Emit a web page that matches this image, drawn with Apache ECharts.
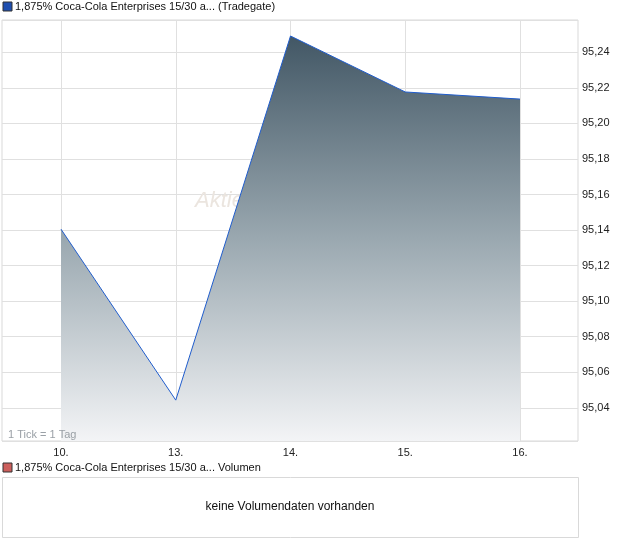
<!DOCTYPE html>
<html><head><meta charset="utf-8">
<script src="https://cdn.jsdelivr.net/npm/echarts@6/dist/echarts.min.js"></script>
<style>html,body{margin:0;padding:0;background:#fff}#c{width:620px;height:546px}</style>
</head><body><div id="c"></div>
<script>
const categories = ['10.', '13.', '14.', '15.', '16.'];
const prices = [95.1405, 95.0443, 95.2492, 95.2177, 95.2137];
const yMin = 95.0213, yMax = 95.2582;
const titleMain = '1,875% Coca-Cola Enterprises 15/30 a... (Tradegate)';
const titleVol = '1,875% Coca-Cola Enterprises 15/30 a... Volumen';
const noVolText = 'keine Volumendaten vorhanden';
const tickNote = '1 Tick = 1 Tag';

const font = '"Liberation Sans", Arial, sans-serif';
const chart = echarts.init(document.getElementById('c'), null, {renderer: 'canvas'});
chart.setOption({
  animation: false,
  textStyle: {fontFamily: font},
  grid: [
    {left: 2, right: 42, top: 20, bottom: 105, show: true, borderColor: '#d9d9d9', borderWidth: 1, backgroundColor: 'transparent'},
    {left: 61, right: 100, top: 20, bottom: 105}
  ],
  xAxis: [
    {gridIndex: 0, type: 'value', min: 0, max: 1, show: false},
    {gridIndex: 1, type: 'category', boundaryGap: false, data: categories,
     axisLine: {show: false}, axisTick: {show: false},
     axisLabel: {color: '#222', fontSize: 11, margin: 6, fontFamily: font},
     splitLine: {show: true, lineStyle: {color: '#e0e0e0', width: 1}}}
  ],
  yAxis: [
    {gridIndex: 0, type: 'value', position: 'right', min: yMin, max: yMax,
     minInterval: 0.02, maxInterval: 0.02, splitNumber: 12,
     axisLine: {show: false}, axisTick: {show: false},
     axisLabel: {color: '#222', fontSize: 11, margin: 4, showMinLabel: false, showMaxLabel: false,
       formatter: v => v.toFixed(2).replace('.', ','), fontFamily: font},
     splitLine: {show: true, lineStyle: {color: '#e0e0e0', width: 1}}},
    {gridIndex: 1, type: 'value', min: yMin, max: yMax, show: false}
  ],
  series: [{
    type: 'line', xAxisIndex: 1, yAxisIndex: 1, data: prices, symbol: 'none', z: 5,
    lineStyle: {color: '#1f5ccc', width: 1},
    areaStyle: {opacity: 1, color: new echarts.graphic.LinearGradient(0, 0, 0, 1, [
      {offset: 0, color: '#425765'}, {offset: 0.5, color: '#9aa8b0'}, {offset: 1, color: '#f3f4f6'}])}
  }],
  graphic: [
    {type: 'text', z: 1, left: 195, top: 190, style: {text: 'Aktiencheck.de', fontSize: 22, fontStyle: 'italic', fill: '#ebe5df', fontFamily: font}},
    {type: 'rect', z: 10, shape: {x: 3, y: 2, width: 9, height: 9}, style: {fill: '#1f4fb0', stroke: '#333', lineWidth: 1}},
    {type: 'text', z: 10, left: 15, top: 1, style: {text: titleMain, fontSize: 11, fill: '#111', fontFamily: font}},
    {type: 'text', z: 10, left: 8, top: 429, style: {text: tickNote, fontSize: 11, fill: '#9aa0a6', fontFamily: font}},
    {type: 'rect', z: 10, shape: {x: 3, y: 463, width: 9, height: 9}, style: {fill: '#cc5f5c', stroke: '#333', lineWidth: 1}},
    {type: 'text', z: 10, left: 15, top: 462, style: {text: titleVol, fontSize: 11, fill: '#111', fontFamily: font}},
    {type: 'rect', z: 10, shape: {x: 2.5, y: 477.5, width: 576, height: 60}, style: {fill: '#fff', stroke: '#d9d9d9', lineWidth: 1}},
    {type: 'text', z: 11, x: 290, y: 507, style: {text: noVolText, fontSize: 12, fill: '#111', align: 'center', verticalAlign: 'middle', fontFamily: font}}
  ]
});
</script></body></html>
